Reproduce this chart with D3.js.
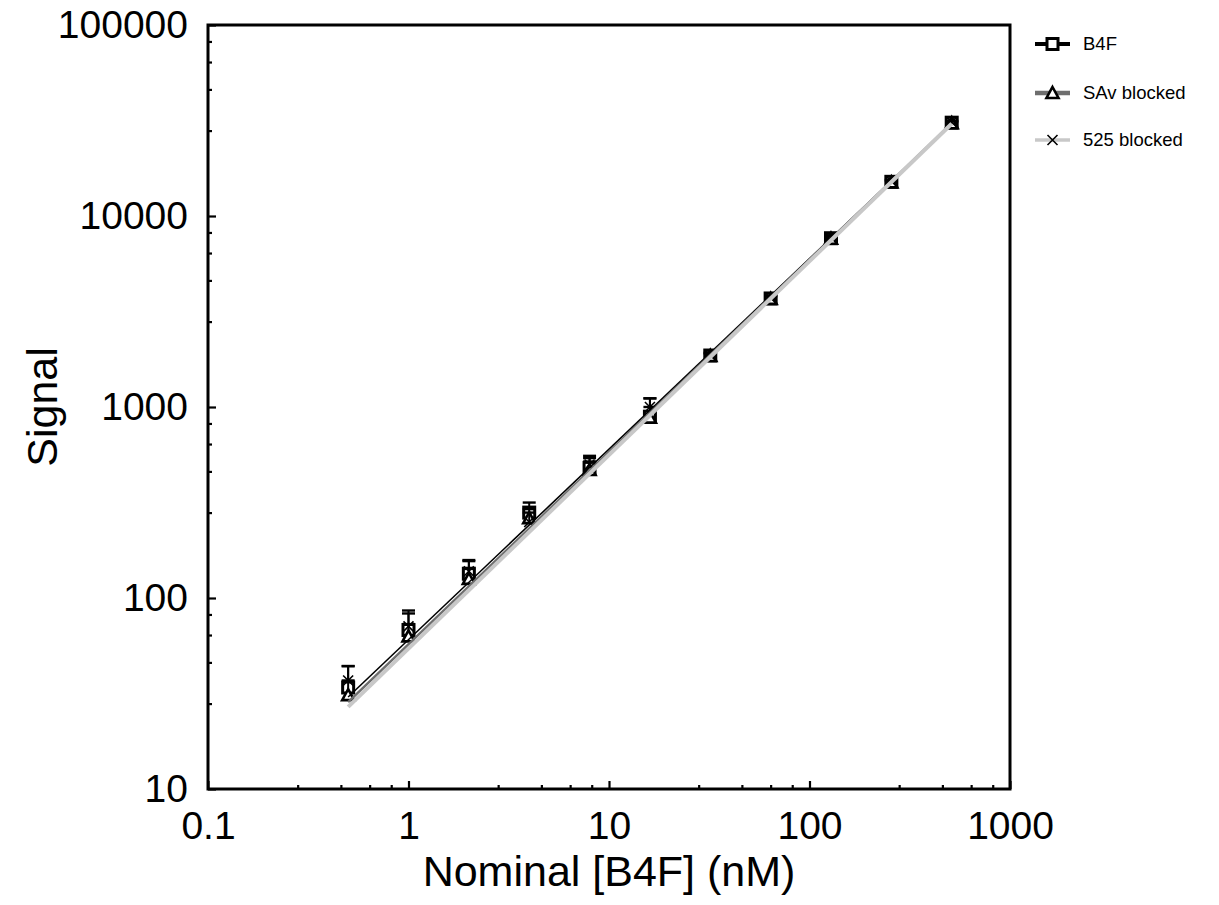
<!DOCTYPE html>
<html>
<head>
<meta charset="utf-8">
<script src="https://cdn.jsdelivr.net/npm/d3@7"></script>
<style>
    body { margin: 0; background: #fff; }
    svg text { font-family: "Liberation Sans", Arial, sans-serif; fill: #000; }
</style>
</head>
<body>
<svg id="chart" width="1219" height="905"></svg>
<script>
// nominal concentrations (nM), 2-fold dilution series
var conc = [0.5, 1, 2, 4, 8, 16, 32, 64, 128, 256, 512];

// mean signal per series
var b4fMean = [34, 68, 134, 280, 480, 890, 1860, 3700, 7650, 15100, 30800];
var savMean = [31, 63, 126, 262, 468, 880, 1850, 3680, 7600, 15000, 30600];
var blk525Mean = [37, 71, 138, 250, 500, 1000, 1870, 3720, 7700, 15200, 31000];

// standard deviations (only the upper half is drawn)
var b4fSd = [10, 18, 24, 36, 60, 220, 60, 110, 200, 300, 600];
var savSd = [6, 10, 16, 30, 50, 120, 50, 100, 180, 300, 500];
var blk525Sd = [7, 12, 18, 30, 55, 110, 50, 100, 180, 300, 500];

// fitted lines, endpoints
var fitX = [0.5, 512];
var b4fFit = [30.3, 30500];
var savFit = [28.5, 30500];
var blk525Fit = [26.9, 30400];

var xMajor = [0.1, 1, 10, 100, 1000];
var yMajor = [10, 100, 1000, 10000, 100000];
// minor ticks at 2.8, 4.6, 6.4, 8.2 of each decade
var minorSteps = [2.8, 4.6, 6.4, 8.2];

var seriesNames = ["B4F", "SAv blocked", "525 blocked"];

var svg = d3.select("#chart");
// plot box
var pLeft = 208, pRight = 1010, pTop = 25, pBottom = 789;

var x = d3.scaleLog().domain([0.1, 1000]).range([pLeft, pRight]);
var y = d3.scaleLog().domain([10, 100000]).range([pBottom, pTop]);

var xMinor = [], yMinor = [];
xMajor.slice(0, -1).forEach(function (d) {
    minorSteps.forEach(function (s) { xMinor.push(d * s); });
});
yMajor.slice(0, -1).forEach(function (d) {
    minorSteps.forEach(function (s) { yMinor.push(d * s); });
});

// x axis, ticks point inwards
var gx = svg.append("g").attr("transform", "translate(0," + pBottom + ")");
gx.call(d3.axisBottom(x).tickValues(xMajor).tickFormat(d3.format("~g"))
    .tickSizeInner(-8).tickSizeOuter(0).tickPadding(22));
gx.append("g").call(d3.axisBottom(x).tickValues(xMinor).tickFormat("")
    .tickSizeInner(-4).tickSizeOuter(0));

var gy = svg.append("g").attr("transform", "translate(" + pLeft + ",0)");
gy.call(d3.axisLeft(y).tickValues(yMajor).tickFormat(d3.format("d"))
    .tickSizeInner(-8).tickSizeOuter(0).tickPadding(20));
gy.append("g").call(d3.axisLeft(y).tickValues(yMinor).tickFormat("")
    .tickSizeInner(-4).tickSizeOuter(0));

svg.selectAll(".domain").attr("stroke", "none");
svg.selectAll(".tick line").attr("stroke", "#000").attr("stroke-width", 2.2);
svg.selectAll(".tick text").attr("font-size", 39).attr("font-family", "Liberation Sans, Arial, sans-serif");

// frame
svg.append("rect")
    .attr("x", pLeft).attr("y", pTop)
    .attr("width", pRight - pLeft).attr("height", pBottom - pTop)
    .attr("fill", "none").attr("stroke", "#000").attr("stroke-width", 3);

// axis titles
svg.append("text")
    .attr("x", (pLeft + pRight) / 2).attr("y", 886)
    .attr("text-anchor", "middle").attr("font-size", 43)
    .text("Nominal [B4F] (nM)");
svg.append("text")
    .attr("transform", "translate(57," + ((pTop + pBottom) / 2) + ") rotate(-90)")
    .attr("text-anchor", "middle").attr("font-size", 43)
    .text("Signal");

var series = [
    { name: seriesNames[0], mean: b4fMean, sd: b4fSd, fit: b4fFit, color: "#000", width: 1.6, legendWidth: 4, marker: "square" },
    { name: seriesNames[1], mean: savMean, sd: savSd, fit: savFit, color: "#6e6e6e", width: 2.5, legendWidth: 4.5, marker: "triangle" },
    { name: seriesNames[2], mean: blk525Mean, sd: blk525Sd, fit: blk525Fit, color: "#c8c8c8", width: 4, legendWidth: 3.5, marker: "cross" }
];

var drawMarker = function (g, type, cx, cy) {
    if (type === "square") {
        g.append("rect").attr("x", cx - 5.5).attr("y", cy - 5.5)
            .attr("width", 11).attr("height", 11)
            .attr("fill", "#fff").attr("stroke", "#000").attr("stroke-width", 3);
    } else if (type === "triangle") {
        g.append("path")
            .attr("d", "M" + cx + "," + (cy - 6) + "L" + (cx + 6) + "," + (cy + 5) + "L" + (cx - 6) + "," + (cy + 5) + "Z")
            .attr("fill", "#fff").attr("stroke", "#000").attr("stroke-width", 2.6);
    } else {
        g.append("path")
            .attr("d", "M" + (cx - 5) + "," + (cy - 5) + "L" + (cx + 5) + "," + (cy + 5) +
                "M" + (cx + 5) + "," + (cy - 5) + "L" + (cx - 5) + "," + (cy + 5))
            .attr("fill", "none").attr("stroke", "#000").attr("stroke-width", 1.6);
    }
};

var plot = svg.append("g");

// upper error bars and markers
series.forEach(function (s) {
    var g = plot.append("g");
    conc.forEach(function (c, i) {
        var cx = x(c);
        var hi = y(s.mean[i] + s.sd[i]);
        g.append("line").attr("x1", cx).attr("x2", cx).attr("y1", hi).attr("y2", y(s.mean[i]))
            .attr("stroke", "#000").attr("stroke-width", 2);
        g.append("line").attr("x1", cx - 6.5).attr("x2", cx + 6.5).attr("y1", hi).attr("y2", hi)
            .attr("stroke", "#000").attr("stroke-width", 2.4);
    });
    conc.forEach(function (c, i) {
        drawMarker(g, s.marker, x(c), y(s.mean[i]));
    });
});

// fit lines on top
series.forEach(function (s) {
    plot.append("line")
        .attr("x1", x(fitX[0])).attr("y1", y(s.fit[0]))
        .attr("x2", x(fitX[1])).attr("y2", y(s.fit[1]))
        .attr("stroke", s.color).attr("stroke-width", s.width);
});

// legend
var legend = svg.append("g");
var rows = [44, 93, 140];
series.forEach(function (s, i) {
    var ly = rows[i];
    legend.append("line").attr("x1", 1035).attr("x2", 1070).attr("y1", ly).attr("y2", ly)
        .attr("stroke", s.color).attr("stroke-width", s.legendWidth);
    drawMarker(legend, s.marker, 1052.5, ly);
    legend.append("text").attr("x", 1083).attr("y", ly).attr("dy", "0.35em")
        .attr("font-size", 18.5).text(s.name);
});
</script>
</body>
</html>
